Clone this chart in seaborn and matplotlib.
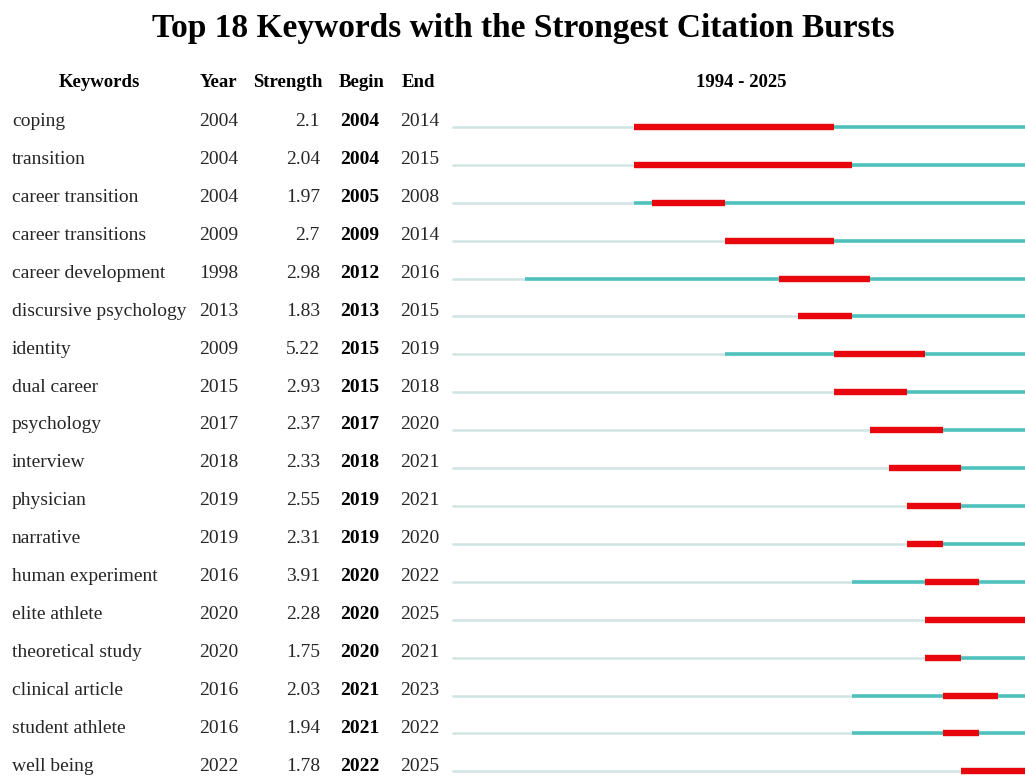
import matplotlib
matplotlib.use("Agg")
import matplotlib.pyplot as plt
import matplotlib.transforms as mtransforms
import seaborn as sns

# burst table data
keywords = ["coping", "transition", "career transition", "career transitions",
            "career development", "discursive psychology", "identity", "dual career",
            "psychology", "interview", "physician", "narrative", "human experiment",
            "elite athlete", "theoretical study", "clinical article", "student athlete",
            "well being"]
years = [2004, 2004, 2004, 2009, 1998, 2013, 2009, 2015, 2017, 2018, 2019, 2019,
         2016, 2020, 2020, 2016, 2016, 2022]
strengths = [2.1, 2.04, 1.97, 2.7, 2.98, 1.83, 5.22, 2.93, 2.37, 2.33, 2.55, 2.31,
             3.91, 2.28, 1.75, 2.03, 1.94, 1.78]
begins = [2004, 2004, 2005, 2009, 2012, 2013, 2015, 2015, 2017, 2018, 2019, 2019,
          2020, 2020, 2020, 2021, 2021, 2022]
ends = [2014, 2015, 2008, 2014, 2016, 2015, 2019, 2018, 2020, 2021, 2021, 2020,
        2022, 2025, 2021, 2023, 2022, 2025]
start_year, end_year = 1994, 2025

sns.set_style("white")
plt.rcParams['font.family'] = ['Liberation Serif', 'DejaVu Serif']

W, H = 1025, 777
fig = plt.figure(figsize=(W / 100, H / 100), dpi=100)

# timeline axes (runs a little past the right edge, as in the source image)
ax = fig.add_axes([452 / W, 0, (1034 - 452) / W, 677 / H])
ax.set_xlim(start_year, end_year + 1)
ax.set_ylim(17.15, -0.712)
ax.axis('off')

light, teal, red = '#cfe5e3', '#4fc1bd', '#e8070d'
for i in range(len(keywords)):
    ax.hlines(i, start_year, years[i], color=light, linewidth=1.8)
    ax.hlines(i, years[i], end_year + 1, color=teal, linewidth=2.6)
    ax.hlines(i, begins[i], ends[i] + 1, color=red, linewidth=4.6)

# table columns: x in figure pixels, y in row units
tr = mtransforms.blended_transform_factory(fig.transFigure, ax.transData)
fs = 14
txt = '#262626'
for i in range(len(keywords)):
    yb = i - 0.02
    ax.text(12 / W, yb, keywords[i], transform=tr, fontsize=fs, color=txt, va='baseline')
    ax.text(199 / W, yb, str(years[i]), transform=tr, fontsize=fs, color=txt, va='baseline')
    ax.text(320 / W, yb, f"{strengths[i]:g}", transform=tr, fontsize=fs, color=txt,
            va='baseline', ha='right')
    ax.text(340 / W, yb, str(begins[i]), transform=tr, fontsize=fs, color='black',
            va='baseline', fontweight='bold')
    ax.text(400 / W, yb, str(ends[i]), transform=tr, fontsize=fs, color=txt, va='baseline')

hy = -1.05
hdr = dict(transform=tr, fontsize=13.5, fontweight='bold', color='black', va='baseline')
ax.text(99 / W, hy, "Keywords", ha='center', **hdr)
ax.text(200 / W, hy, "Year", **hdr)
ax.text(253 / W, hy, "Strength", **hdr)
ax.text(339 / W, hy, "Begin", **hdr)
ax.text(402 / W, hy, "End", **hdr)
ax.text(741 / W, hy, f"{start_year} - {end_year}", ha='center', **hdr)

fig.text(523 / W, 1 - 28 / H, "Top 18 Keywords with the Strongest Citation Bursts",
         ha='center', va='center', fontsize=24, fontweight='bold', color='black')

fig.savefig("out.png", dpi=100)
